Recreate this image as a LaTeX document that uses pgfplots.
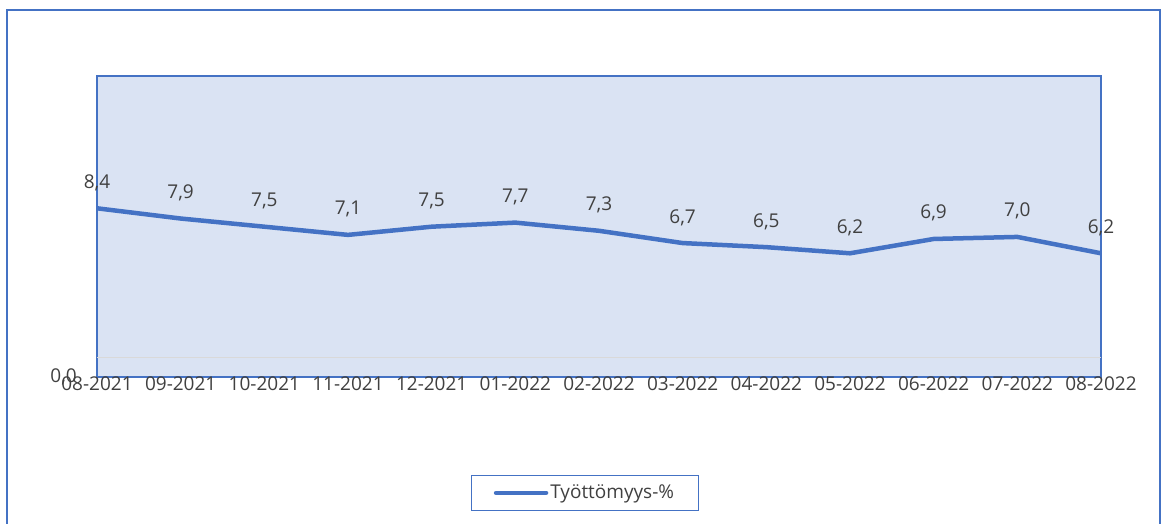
\documentclass[border=0pt]{standalone}
\usepackage{pgfplots}
\pgfplotsset{compat=1.18}
\usepackage{fontspec}
\setmainfont{Open Sans}
\definecolor{xlblue}{HTML}{4472C4}
\definecolor{xlfill}{HTML}{DAE3F3}
\definecolor{xltext}{HTML}{404040}
\definecolor{xlgrid}{HTML}{D9D9D9}

\begin{document}
\fontsize{19}{23}\selectfont
\begin{tikzpicture}[x=1pt,y=1pt]
\useasboundingbox (-97,-147) rectangle (1069,377);
% outer chart frame
\draw[xlblue, line width=2pt] (-90,-160) rectangle (1063,367);
\begin{axis}[
    at={(0,0)}, anchor=south west,
    scale only axis,
    width=1004pt, height=301pt,
    xmin=0, xmax=12, ymin=0.15, ymax=14.87,
    xtick={0,...,12},
    xticklabels={08-2021,09-2021,10-2021,11-2021,12-2021,01-2022,02-2022,03-2022,04-2022,05-2022,06-2022,07-2022,08-2022},
    ytick={0.15},
    yticklabels={{0{,}0}},
    major tick length=0pt,
    /pgf/number format/assume math mode=true,
    /pgf/number format/.cd, fixed, fixed zerofill, precision=1, use comma, /pgfplots/.cd,
    xticklabel style={anchor=north, inner sep=0pt, text=xltext, font=\fontsize{19}{23}\selectfont},
    yticklabel style={anchor=east, inner sep=0pt, xshift=-20pt, text=xltext, font=\fontsize{19}{23}\selectfont},
    axis background/.style={fill=xlfill},
    axis line style={draw=xlblue, line width=1.3pt},
    clip=false,
    nodes near coords,
    nodes near coords style={anchor=base, inner sep=0pt, yshift=20pt, text=xltext, font=\fontsize{19}{23}\selectfont},
    legend style={at={(0.486,-0.385)}, anchor=center, draw=xlblue, line width=1pt,
        inner xsep=22pt, inner ysep=7pt, text=xltext, font=\fontsize{19}{23}\selectfont},
    legend image code/.code={\draw[#1, line cap=round] (0pt,0pt) -- (50pt,0pt);},
]
\draw[xlgrid, line width=1pt] (rel axis cs:0,0.066) -- (rel axis cs:1,0.066);
\addplot[xlblue, line width=4.5pt, line join=round, mark=none] coordinates {
    (0,8.4) (1,7.9) (2,7.5) (3,7.1) (4,7.5) (5,7.7) (6,7.3)
    (7,6.7) (8,6.5) (9,6.2) (10,6.9) (11,7.0) (12,6.2)
};
\addlegendentry{Työttömyys-\%}
\end{axis}
\end{tikzpicture}
\end{document}
